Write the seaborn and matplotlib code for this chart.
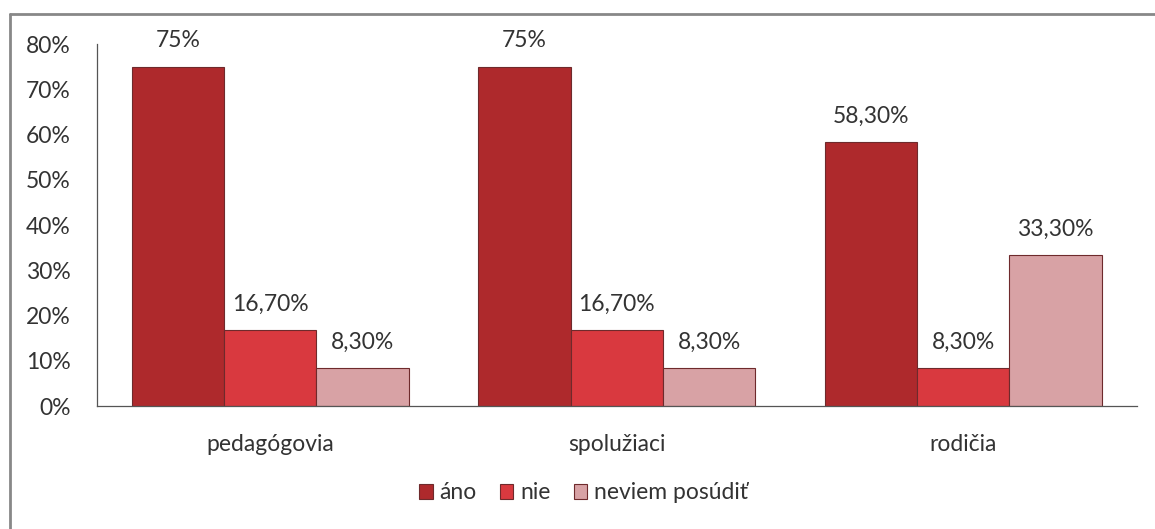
import matplotlib
matplotlib.use("Agg")
import matplotlib.pyplot as plt
from matplotlib.lines import Line2D
import seaborn as sns
import pandas as pd

categories = ["pedagógovia", "spolužiaci", "rodičia"]
series = ["áno", "nie", "neviem posúdiť"]
values_ano = [75, 75, 58.3]
values_nie = [16.7, 16.7, 8.3]
values_neviem = [8.3, 8.3, 33.3]
labels_ano = ["75%", "75%", "58,30%"]
labels_nie = ["16,70%", "16,70%", "8,30%"]
labels_neviem = ["8,30%", "8,30%", "33,30%"]
y_ticks = [0, 10, 20, 30, 40, 50, 60, 70, 80]
y_ticklabels = ["0%", "10%", "20%", "30%", "40%", "50%", "60%", "70%", "80%"]

colors = ["#ae292c", "#d9393f", "#d8a2a5"]

rows = []
for s, vals in zip(series, [values_ano, values_nie, values_neviem]):
    for c, v in zip(categories, vals):
        rows.append({"kategória": c, "odpoveď": s, "hodnota": v})
df = pd.DataFrame(rows)

sns.set_theme(style="white")
plt.rcParams["font.family"] = ["Lato", "DejaVu Sans"]

FS = 16.5
TXT = "#333333"

fig = plt.figure(figsize=(11.55, 5.29), dpi=100)
ax = fig.add_axes([0.084, 0.2325, 0.9, 0.6843])

sns.barplot(data=df, x="kategória", y="hodnota", hue="odpoveď",
            palette=colors, order=categories, hue_order=series,
            width=0.8, saturation=1, edgecolor="#6e2a2c", linewidth=0.8, ax=ax,
            legend=True)

for cont, labs in zip(ax.containers, [labels_ano, labels_nie, labels_neviem]):
    ax.bar_label(cont, labels=labs, padding=11, fontsize=FS, color=TXT)

ax.set_ylim(0, 80)
ax.set_yticks(y_ticks)
ax.set_yticklabels(y_ticklabels, fontsize=FS, color=TXT)
ax.tick_params(axis="x", labelsize=FS, colors=TXT, pad=14)
ax.tick_params(axis="y", pad=13)
ax.set_xlabel("")
ax.set_ylabel("")
ax.set_xlim(-0.5, 2.5)
for sp in ["top", "right"]:
    ax.spines[sp].set_visible(False)
ax.spines["left"].set_color("#555555")
ax.spines["bottom"].set_color("#555555")
ax.spines["left"].set_linewidth(0.9)
ax.spines["bottom"].set_linewidth(0.9)

leg = ax.legend(loc="center", bbox_to_anchor=(0.468, -0.24), ncol=3, frameon=False,
                fontsize=FS, handlelength=0.6, handleheight=0.6, handletextpad=0.3,
                columnspacing=1.0)
for t in leg.get_texts():
    t.set_color(TXT)

fig.add_artist(Line2D([10 / 1155, 1], [1 - 14 / 529, 1 - 14 / 529], color="#888888", lw=2))
fig.add_artist(Line2D([10 / 1155, 10 / 1155], [0, 1 - 14 / 529], color="#888888", lw=2))

fig.savefig("out.png", dpi=100, facecolor="white")
